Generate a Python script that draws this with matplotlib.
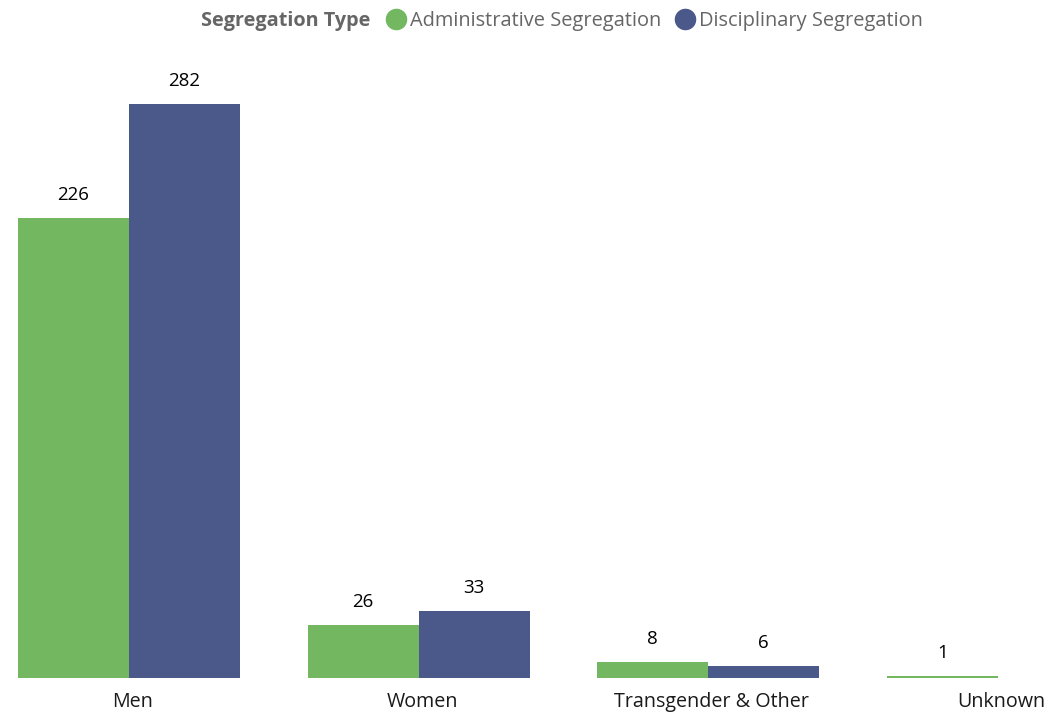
import numpy as np
import matplotlib
matplotlib.use("Agg")
import matplotlib.pyplot as plt
from matplotlib.lines import Line2D

plt.rcParams["font.family"] = ["Open Sans", "DejaVu Sans"]

categories = ["Men", "Women", "Transgender & Other", "Unknown"]
admin = [226, 26, 8, 1]
disc = [282, 33, 6, np.nan]   # no disciplinary bar for Unknown
series_names = ["Administrative Segregation", "Disciplinary Segregation"]
legend_title = "Segregation Type"

GREEN = "#73B761"
BLUE = "#4A588A"

fig = plt.figure(figsize=(10.48, 7.13), dpi=100, facecolor="white")
ax = fig.add_axes([0, 1 - 678 / 713, 1, (678 - 40) / 713])

x = np.arange(len(categories))
w = 0.3834
b1 = ax.bar(x - w / 2, admin, w, color=GREEN)
b2 = ax.bar(x + w / 2, disc, w, color=BLUE)

for bars, vals in [(b1, admin), (b2, disc)]:
    for r, v in zip(bars, vals):
        if np.isnan(v):
            continue
        ax.annotate(f"{v:.0f}", xy=(r.get_x() + r.get_width() / 2, v),
                    xytext=(0, 16.5), textcoords="offset points",
                    ha="center", va="center", fontsize=13.5, color="black")

ax.set_xlim(-0.4456, 3.1735)
ax.set_ylim(0, 313.5)
ax.set_xticks(x + 0.012)
ax.set_xticklabels(categories, fontsize=14.2, color="#1a1a1a")
ax.tick_params(axis="x", length=0, pad=10)
ax.set_yticks([])
for s in ax.spines.values():
    s.set_visible(False)

# legend across the top
fig.text(370 / 1048, 1 - 21 / 713, legend_title, ha="right", va="center",
         fontsize=14.3, fontweight="bold", color="#666666")
handles = [Line2D([], [], marker="o", ls="", ms=14.5, color=c) for c in (GREEN, BLUE)]
fig.legend(handles, series_names, loc="center left", bbox_to_anchor=(386 / 1048, 1 - 21 / 713),
           ncol=2, frameon=False, fontsize=14.4, labelcolor="#666666",
           handletextpad=0.2, columnspacing=0.7, handlelength=1.0, borderpad=0,
           borderaxespad=0)

fig.savefig("out.png", dpi=100, facecolor="white")
